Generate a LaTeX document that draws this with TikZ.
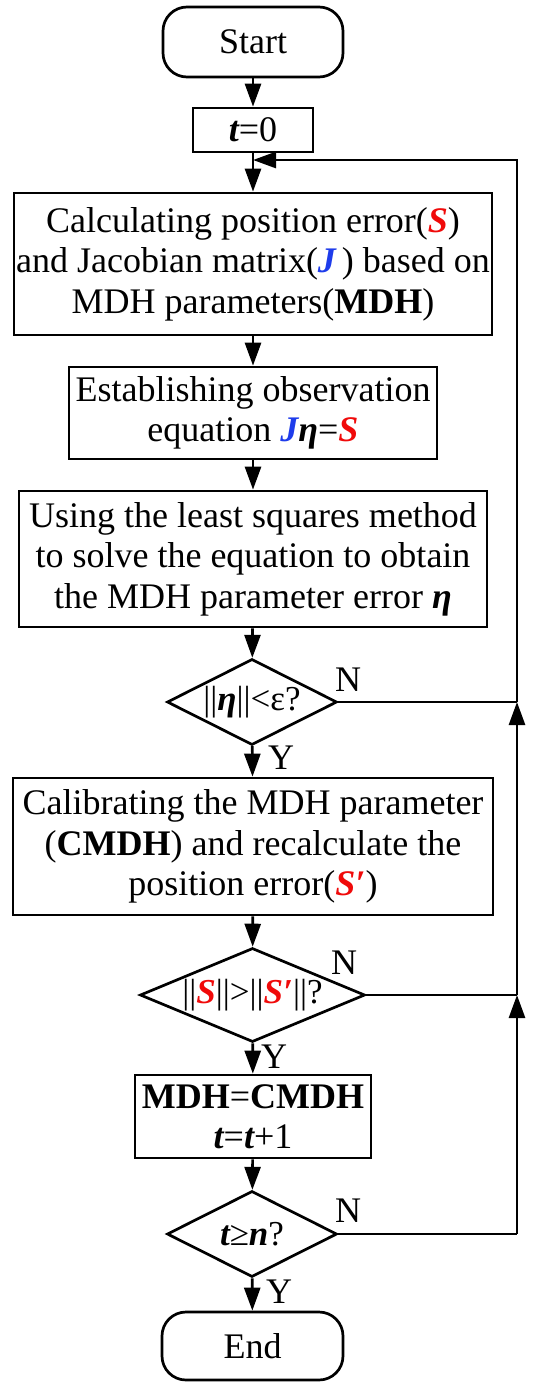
\documentclass[tikz,border=0pt]{standalone}
\usepackage{fontspec}
\setmainfont{Liberation Serif}
\usetikzlibrary{arrows.meta,shapes.geometric}
\definecolor{sred}{RGB}{240,10,10}
\definecolor{sblue}{RGB}{30,60,235}
\newcommand{\bi}[1]{{\bfseries\itshape #1}}
\newcommand{\rbi}[1]{{\color{sred}\bfseries\itshape #1}}
\newcommand{\bbi}[1]{{\color{sblue}\bfseries\itshape #1}}
\begin{document}
\begin{tikzpicture}[x=1pt,y=-1pt,
  lw/.style={line width=2.7pt},
  box/.style={draw, lw, rectangle, inner sep=0pt, align=center, font=\fontsize{36}{40.5}\selectfont},
  term/.style={box, rounded corners=24pt},
  dia/.style={draw, lw, diamond, inner sep=0pt},
  dtxt/.style={inner sep=0pt, font=\fontsize{35}{40}\selectfont},
  lbl/.style={inner sep=0pt, font=\fontsize{36}{40}\selectfont},
  arr/.style={lw, -{Triangle[length=23pt,width=16pt]}},
  conn/.style={lw, line join=miter}]
\useasboundingbox (0,0) rectangle (534,1382);
\fill[white] (0,0) rectangle (534,1382);

\node[term, minimum width=180pt, minimum height=70pt] (start) at (253,42) {Start};
\node[box, minimum width=120pt, minimum height=44pt] (t0) at (253,130) {\bi{t}=0};
\node[box, minimum width=478pt, minimum height=142pt] (b1) at (253,264)
  {Calculating position error(\rbi{S})\\and Jacobian matrix(\bbi{J}\,) based on\\MDH parameters(\textbf{MDH})};
\node[box, minimum width=368pt, minimum height=92pt] (b2) at (253,413)
  {Establishing observation\\equation \bbi{J}\bi{η}=\rbi{S}};
\node[box, minimum width=468pt, minimum height=136pt] (b3) at (253,559)
  {Using the least squares method\\to solve the equation to obtain\\the MDH parameter error \bi{η}};
\node[dia, minimum width=170pt, minimum height=86pt] (d1) at (252,702) {};
\node[dtxt] (d1t) at (d1.center) {||\bi{η}||<ε?};
\node[box, minimum width=480pt, minimum height=137pt] (b4) at (253,846.5)
  {Calibrating the MDH parameter\\(\textbf{CMDH}) and recalculate the\\position error(\rbi{S′})};
\node[dia, minimum width=225pt, minimum height=94pt] (d2) at (252.5,995) {};
\node[dtxt] (d2t) at (d2.center) {||\rbi{S}||>||\rbi{S′}||?};
\node[box, minimum width=236pt, minimum height=83pt] (b5) at (253,1116.5)
  {\textbf{MDH}=\textbf{CMDH}\\\bi{t}=\bi{t}+1};
\node[dia, minimum width=170pt, minimum height=86pt] (d3) at (252,1234) {};
\node[dtxt] (d3t) at (d3.center) {\bi{t}≥\bi{n}?};
\node[term, minimum width=181pt, minimum height=68pt] (end) at (252.5,1346) {End};

\node[lbl] (n1) at (348,680) {N};
\node[lbl] (y1) at (281,758) {Y};
\node[lbl] (n2) at (344,963) {N};
\node[lbl] (y2) at (274,1057) {Y};
\node[lbl] (n3) at (348,1211) {N};
\node[lbl] (y3) at (279,1292) {Y};

\coordinate (r1) at (517,702);
\coordinate (r2) at (517,995);
\coordinate (r3) at (517,1234);
\coordinate (rt) at (517,160);
\coordinate (lp) at (253,160);

\draw[arr] (start) -- (t0);
\draw[arr] (t0) -- (b1);
\draw[arr] (b1) -- (b2);
\draw[arr] (b2) -- (b3);
\draw[arr] (b3) -- (d1);
\draw[arr] (d1) -- (b4);
\draw[arr] (b4) -- (d2);
\draw[arr] (d2) -- (b5);
\draw[arr] (b5) -- (d3);
\draw[arr] (d3) -- (end);

\draw[conn] (d3.east) -- (r3);
\draw[arr] (r3) -- (r2);
\draw[conn] (d2.east) -- (r2);
\draw[arr] (r2) -- (r1);
\draw[conn] (d1.east) -- (r1);
\draw[arr, line join=miter] (r1) -- (rt) -- (lp);
\end{tikzpicture}
\end{document}
